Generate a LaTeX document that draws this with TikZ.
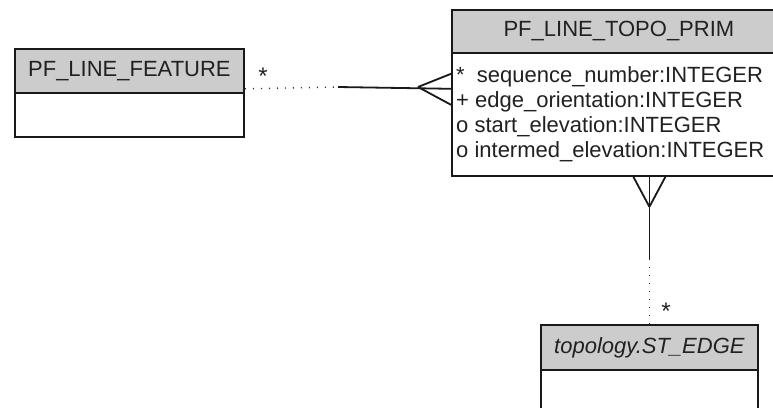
\documentclass[tikz,border=0pt]{standalone}
\usepackage{fontspec}
\setmainfont{Liberation Sans}
\begin{document}
\begin{tikzpicture}[x=1pt,y=-1pt,
  txt/.style={text=black!87, font=\fontsize{22}{25}\selectfont, inner sep=0pt},
  hdr/.style={draw=black!90, line width=1.8pt, fill=black!20, rectangle, inner sep=0pt, anchor=north west},
  bdy/.style={draw=black!90, line width=1.8pt, fill=white, rectangle, inner sep=0pt, anchor=north west},
  conn/.style={draw=black!90, line width=1.8pt},
  dots/.style={draw=black!80, line width=1.4pt, dash pattern=on 1.2pt off 6.8pt},
  mult/.style={txt, font=\fontsize{24}{25}\selectfont}]
\useasboundingbox (0,0) rectangle (773,407);
\clip (0,0) rectangle (773,407);
\fill[white] (0,0) rectangle (773,407);
% PF_LINE_FEATURE
\node[hdr, minimum width=229pt, minimum height=44pt] (fh) at (14,48) {};
\node[bdy, minimum width=229pt, minimum height=44pt] (fb) at (14,92) {};
\node[txt] (fht) at (fh.center) {PF\_LINE\_FEATURE};
% PF_LINE_TOPO_PRIM
\node[bdy, minimum width=334pt, minimum height=123pt] (tb) at (451,52) {};
\node[hdr, minimum width=334pt, minimum height=43pt] (th) at (451,9) {};
\node[txt] (tht) at (th.center) {PF\_LINE\_TOPO\_PRIM};
\node[txt, anchor=base west] (a1) at (456,82) {*\hspace{0.55em}sequence\_number:INTEGER};
\node[txt, anchor=base west] (a2) at (456,107) {+ edge\_orientation:INTEGER};
\node[txt, anchor=base west] (a3) at (456,132) {o start\_elevation:INTEGER};
\node[txt, anchor=base west] (a4) at (456,157) {o intermed\_elevation:INTEGER};
% topology.ST_EDGE
\node[hdr, minimum width=217pt, minimum height=45pt] (eh) at (540,324) {};
\node[bdy, minimum width=217pt, minimum height=70pt] (eb) at (540,369) {};
\node[txt, font=\fontsize{22}{25}\selectfont\itshape] (eht) at (eh.center) {topology.ST\_EDGE};
% left connector
\coordinate (la) at ([yshift=5pt]fh.south east);
\coordinate (lm) at (338,87);
\coordinate (lv) at (418,87);
\coordinate (lt) at (la -| tb.west);
\draw[dots] (la) -- (lm);
\draw[conn] (lm) -- (lt);
\draw[conn] (lv) -- ([yshift=15pt]lt);
\draw[conn] (lv) -- ([yshift=-16pt]lt);
\node[mult] (s1) at (263,76) {*};
% vertical connector
\coordinate (vb) at (eh.north |- tb.south);
\coordinate (vv) at ([yshift=-30pt]vb);
\coordinate (vm) at ([yshift=-82pt]vb);
\draw[conn] (vb) -- (vm);
\draw[conn] (vv) -- ([xshift=-16pt]vb);
\draw[conn] (vv) -- ([xshift=16pt]vb);
\draw[dots] (vm) -- (eh.north);
\node[mult] (s2) at (666,311) {*};
\end{tikzpicture}
\end{document}
